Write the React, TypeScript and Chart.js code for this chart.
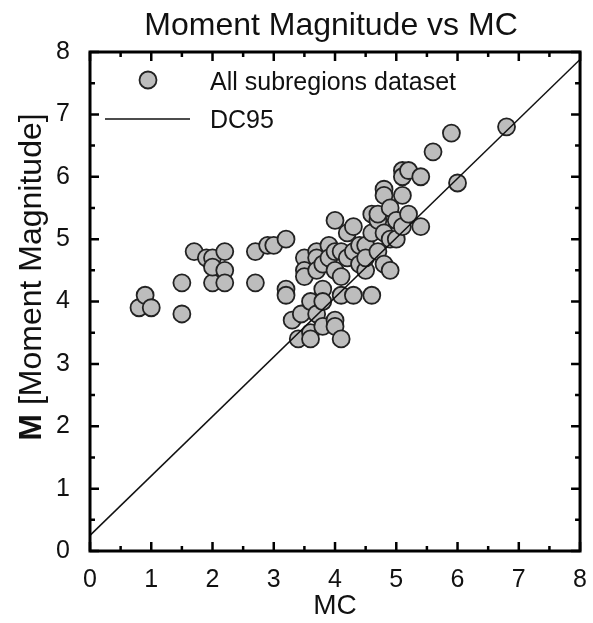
import React, { useEffect, useRef } from "react";
import { Chart, registerables } from "chart.js";

Chart.register(...registerables);

const TITLE = "Moment Magnitude vs MC";
const X_TITLE = "MC";
const Y_TITLE_BOLD = "M";
const Y_TITLE_REST = " [Moment Magnitude]";
const SCATTER_LABEL = "All subregions dataset";
const LINE_LABEL = "DC95";

const AXIS_MIN = 0;
const AXIS_MAX = 8;

const mcValues = [
  0.8, 0.9, 1.0, 1.5, 1.5, 1.7, 1.9, 2.0, 2.0, 2.0, 2.2, 2.2, 2.2, 2.7, 2.7, 2.9, 3.0, 3.2, 3.2, 3.2,
  3.3, 3.4, 3.45, 3.5, 3.5, 3.5, 3.6, 3.6, 3.6, 3.7, 3.7, 3.7, 3.7, 3.8, 3.8, 3.8, 3.8, 3.9, 3.9,
  4.0, 4.0, 4.0, 4.0, 4.0, 4.1, 4.1, 4.1, 4.1, 4.2, 4.2, 4.3, 4.3, 4.3, 4.4, 4.4, 4.5, 4.5, 4.5,
  4.6, 4.6, 4.6, 4.7, 4.7, 4.7, 4.8, 4.8, 4.8, 4.8, 4.9, 4.9, 4.9, 5.0, 5.0, 5.1, 5.1, 5.1, 5.1,
  5.2, 5.2, 5.4, 5.4, 5.6, 5.9, 6.0, 6.8,
];
const mwValues = [
  3.9, 4.1, 3.9, 3.8, 4.3, 4.8, 4.7, 4.7, 4.3, 4.55, 4.8, 4.5, 4.3, 4.3, 4.8, 4.9, 4.9, 5.0, 4.2, 4.1,
  3.7, 3.4, 3.8, 4.7, 4.5, 4.4, 4.0, 3.5, 3.4, 4.8, 4.7, 4.5, 3.8, 4.2, 4.0, 3.6, 4.6, 4.9, 4.7,
  4.8, 4.5, 3.7, 3.6, 5.3, 4.8, 4.4, 4.1, 3.4, 5.1, 4.7, 5.2, 4.8, 4.1, 4.9, 4.6, 4.9, 4.5, 4.7,
  5.4, 4.1, 5.1, 5.3, 4.8, 5.4, 5.8, 5.7, 5.1, 4.6, 5.5, 4.5, 5.0, 5.3, 5.0, 5.7, 6.1, 6.0, 5.2,
  6.1, 5.4, 6.0, 5.2, 6.4, 6.7, 5.9, 6.8,
];

const dc95X = [0, 8];
const dc95Y = [0.25, 7.88];

const FONT = "'Liberation Sans', Arial, Helvetica, sans-serif";

export default function App() {
  const ref = useRef<HTMLCanvasElement | null>(null);

  useEffect(() => {
    document.body.style.margin = "0";
    const canvas = ref.current;
    if (!canvas) return;

    const framePlugin = {
      id: "frameAndText",
      afterDatasetsDraw(chart: any) {
        const { ctx, chartArea, scales } = chart;
        const xs = scales.x;
        const ys = scales.y;
        ctx.save();
        ctx.strokeStyle = "#000";
        ctx.lineWidth = 2.5;
        ctx.lineCap = "butt";
        for (let v = AXIS_MIN; v <= AXIS_MAX + 1e-9; v += 0.5) {
          const major = Math.abs(v - Math.round(v)) < 1e-6;
          const len = major ? 9 : 5;
          const px = xs.getPixelForValue(v);
          const py = ys.getPixelForValue(v);
          ctx.beginPath();
          ctx.moveTo(px, chartArea.bottom);
          ctx.lineTo(px, chartArea.bottom - len);
          ctx.moveTo(px, chartArea.top);
          ctx.lineTo(px, chartArea.top + len);
          ctx.moveTo(chartArea.left, py);
          ctx.lineTo(chartArea.left + len, py);
          ctx.moveTo(chartArea.right, py);
          ctx.lineTo(chartArea.right - len, py);
          ctx.stroke();
        }
        ctx.lineWidth = 3;
        ctx.strokeRect(
          chartArea.left,
          chartArea.top,
          chartArea.right - chartArea.left,
          chartArea.bottom - chartArea.top
        );
        ctx.restore();
      },
      afterDraw(chart: any) {
        const { ctx, chartArea } = chart;
        ctx.save();
        ctx.fillStyle = "#111";
        // title
        ctx.font = `32px ${FONT}`;
        ctx.textAlign = "center";
        ctx.textBaseline = "alphabetic";
        ctx.fillText(TITLE, 331, 35);
        // x title
        ctx.font = `28px ${FONT}`;
        ctx.fillText(X_TITLE, 335, 614);
        // y title (rotated, mixed weight)
        ctx.save();
        ctx.translate(41, 277);
        ctx.rotate(-Math.PI / 2);
        const bold = `bold 32px ${FONT}`;
        const reg = `32px ${FONT}`;
        ctx.font = bold;
        const wb = ctx.measureText(Y_TITLE_BOLD).width;
        ctx.font = reg;
        const wr = ctx.measureText(Y_TITLE_REST).width;
        const start = -(wb + wr) / 2;
        ctx.textAlign = "left";
        ctx.font = bold;
        ctx.fillText(Y_TITLE_BOLD, start, 0);
        ctx.font = reg;
        ctx.fillText(Y_TITLE_REST, start + wb, 0);
        ctx.restore();
        // legend
        const lx = chartArea.left;
        ctx.beginPath();
        ctx.arc(lx + 58, 80, 8.5, 0, Math.PI * 2);
        ctx.fillStyle = "#bdbdbd";
        ctx.fill();
        ctx.lineWidth = 1.8;
        ctx.strokeStyle = "#222";
        ctx.stroke();
        ctx.beginPath();
        ctx.moveTo(lx + 15, 119);
        ctx.lineTo(lx + 100, 119);
        ctx.lineWidth = 1.5;
        ctx.strokeStyle = "#111";
        ctx.stroke();
        ctx.fillStyle = "#111";
        ctx.font = `25px ${FONT}`;
        ctx.textAlign = "left";
        ctx.fillText(SCATTER_LABEL, lx + 120, 90);
        ctx.fillText(LINE_LABEL, lx + 120, 128);
        ctx.restore();
      },
    };

    const chart = new Chart(canvas, {
      type: "scatter",
      data: {
        datasets: [
          {
            type: "line",
            label: LINE_LABEL,
            data: dc95X.map((x, i) => ({ x, y: dc95Y[i] })),
            borderColor: "#111",
            borderWidth: 1.5,
            pointRadius: 0,
            fill: false,
            order: 0,
          } as any,
          {
            type: "scatter",
            label: SCATTER_LABEL,
            data: mcValues.map((x, i) => ({ x, y: mwValues[i] })),
            backgroundColor: "#bdbdbd",
            borderColor: "#222",
            borderWidth: 1.8,
            pointRadius: 8.5,
            order: 1,
          },
        ],
      },
      options: {
        animation: false,
        responsive: false,
        maintainAspectRatio: false,
        layout: { padding: { top: 52, right: 12, left: 0, bottom: 0 } },
        plugins: {
          legend: { display: false },
          title: { display: false },
          tooltip: { enabled: false },
        },
        scales: {
          x: {
            type: "linear",
            min: AXIS_MIN,
            max: AXIS_MAX,
            grid: { display: false },
            border: { display: false },
            ticks: {
              stepSize: 1,
              padding: 6,
              color: "#111",
              font: { family: FONT, size: 25 },
            },
            afterFit: (s: any) => {
              s.height = 72;
            },
          },
          y: {
            type: "linear",
            min: AXIS_MIN,
            max: AXIS_MAX,
            grid: { display: false },
            border: { display: false },
            ticks: {
              stepSize: 1,
              padding: 12,
              color: "#111",
              font: { family: FONT, size: 25 },
            },
            afterFit: (s: any) => {
              s.width = 90;
            },
          },
        },
      },
      plugins: [framePlugin],
    });

    return () => chart.destroy();
  }, []);

  return (
    <div style={{ width: 593, height: 623, background: "#fff" }}>
      <canvas ref={ref} width={593} height={623} style={{ display: "block" }} />
    </div>
  );
}
